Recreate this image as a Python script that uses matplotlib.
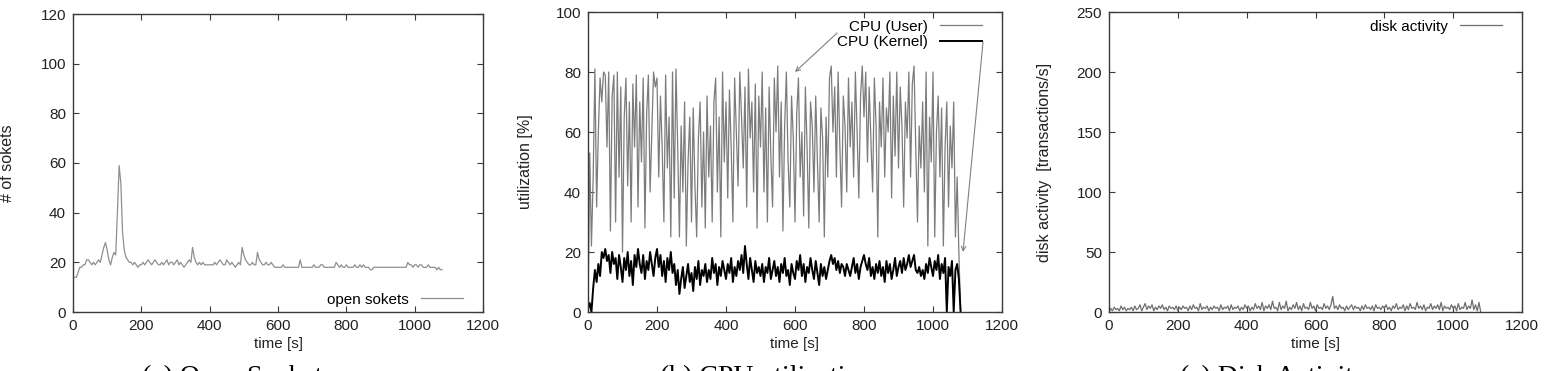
import numpy as np
import matplotlib
matplotlib.use("Agg")
import matplotlib.pyplot as plt

plt.rcParams['font.family'] = ['Liberation Sans', 'DejaVu Sans']

# sampling grid (seconds)
STEP = 5
T_END = 1080

sockets = [
    14, 14, 14, 16, 18, 18, 19, 19, 21, 21,
    20, 19, 20, 19, 20, 21, 20, 23, 26, 28,
    25, 21, 19, 22, 24, 23, 40, 59, 52, 32,
    25, 22, 21, 20, 20, 19, 20, 19, 18, 19,
    19, 20, 19, 20, 21, 20, 19, 20, 21, 20,
    19, 19, 20, 19, 20, 21, 19, 20, 20, 19,
    20, 21, 19, 20, 19, 18, 19, 20, 21, 20,
    26, 22, 20, 19, 20, 19, 20, 19, 19, 19,
    19, 19, 19, 20, 19, 20, 21, 20, 19, 19,
    21, 20, 19, 20, 19, 18, 19, 20, 19, 26,
    23, 21, 20, 19, 19, 20, 19, 19, 24, 21,
    20, 19, 19, 20, 19, 19, 20, 19, 18, 18,
    18, 18, 18, 19, 18, 18, 18, 18, 18, 18,
    18, 18, 18, 21, 18, 18, 18, 18, 18, 18,
    18, 19, 18, 18, 18, 19, 19, 18, 18, 18,
    18, 18, 18, 18, 20, 19, 18, 19, 18, 18,
    19, 18, 18, 18, 18, 19, 18, 18, 19, 18,
    19, 18, 18, 18, 17, 17, 18, 18, 18, 18,
    18, 18, 18, 18, 18, 18, 18, 18, 18, 18,
    18, 18, 18, 18, 18, 18, 20, 19, 19, 18,
    19, 19, 18, 19, 19, 18, 18, 18, 19, 18,
    18, 18, 18, 17, 18, 17, 17,
]

cpu_user = [
    0, 53, 22, 45, 81, 35, 60, 78, 70, 80,
    79, 55, 80, 27, 72, 79, 30, 80, 45, 75,
    20, 65, 78, 42, 70, 30, 76, 55, 79, 35,
    70, 50, 78, 28, 66, 79, 40, 60, 80, 75,
    78, 45, 72, 55, 30, 79, 48, 65, 25, 80,
    38, 81, 55, 25, 62, 40, 70, 22, 50, 65,
    30, 68, 42, 25, 58, 70, 35, 60, 28, 72,
    45, 62, 30, 70, 78, 40, 65, 25, 80, 50,
    70, 38, 74, 55, 30, 78, 60, 42, 80, 65,
    48, 75, 35, 81, 58, 70, 40, 76, 28, 72,
    55, 80, 40, 68, 30, 75, 52, 35, 78, 60,
    82, 45, 70, 27, 62, 80, 50, 35, 72, 58,
    30, 66, 78, 45, 60, 32, 75, 55, 28, 70,
    62, 40, 72, 50, 30, 68, 58, 25, 65, 45,
    78, 82, 60, 75, 45, 80, 55, 35, 72, 62,
    40, 78, 55, 70, 45, 80, 60, 38, 72, 82,
    65, 80, 50, 75, 58, 40, 78, 62, 25, 70,
    55, 78, 45, 68, 60, 80, 38, 72, 52, 80,
    48, 75, 62, 35, 70, 58, 80, 45, 76, 82,
    55, 30, 62, 48, 70, 40, 80, 22, 65, 50,
    80, 25, 60, 72, 45, 68, 22, 55, 70, 35,
    62, 48, 70, 25, 45, 20, 0,
]

cpu_kernel = [
    1, 3, 0, 8, 14, 10, 16, 12, 20, 18,
    21, 17, 19, 13, 20, 16, 18, 11, 19, 15,
    10, 18, 14, 20, 12, 17, 9, 19, 15, 21,
    16, 13, 19, 11, 17, 14, 20, 16, 12, 18,
    21, 15, 19, 12, 17, 10, 18, 14, 20, 13,
    16, 9, 14, 6, 11, 15, 8, 12, 16, 10,
    13, 7, 15, 11, 17, 9, 14, 12, 16, 10,
    14, 11, 18, 13, 16, 9, 15, 12, 17, 14,
    11, 16, 13, 18, 10, 15, 12, 17, 14, 19,
    13, 22, 16, 11, 18, 14, 10, 17, 13, 15,
    12, 16, 10, 15, 13, 18, 11, 14, 17, 12,
    15, 10, 16, 13, 18, 12, 14, 9, 16, 13,
    11, 17, 14, 19, 12, 16, 10, 15, 13, 18,
    14, 11, 17, 13, 9, 16, 12, 15, 11, 14,
    17, 19, 16, 18, 14, 17, 13, 16, 15, 12,
    16, 14, 12, 15, 18, 13, 16, 11, 15, 17,
    19, 16, 14, 18, 12, 15, 11, 16, 13, 17,
    12, 15, 10, 17, 13, 16, 11, 14, 18, 12,
    15, 17, 13, 18, 14, 16, 19, 15, 17, 19,
    14, 13, 15, 12, 14, 11, 16, 13, 18, 15,
    12, 17, 14, 19, 11, 16, 13, 18, 0, 15,
    12, 17, 0, 14, 16, 11, 0,
]

disk = [
    0, 3, 1, 4, 2, 3, 1, 5, 2, 4,
    1, 3, 2, 4, 1, 5, 2, 3, 6, 1,
    4, 7, 2, 5, 3, 6, 1, 4, 2, 5,
    3, 6, 2, 4, 1, 5, 3, 4, 2, 5,
    1, 4, 2, 5, 3, 4, 1, 5, 2, 6,
    3, 4, 1, 7, 2, 4, 3, 5, 1, 4,
    2, 5, 3, 4, 1, 6, 2, 4, 3, 5,
    1, 6, 2, 4, 3, 5, 1, 4, 2, 6,
    3, 5, 1, 4, 2, 7, 3, 5, 2, 8,
    1, 5, 3, 6, 2, 9, 3, 4, 1, 8,
    2, 5, 3, 9, 1, 4, 2, 6, 3, 8,
    2, 5, 1, 7, 3, 4, 2, 8, 3, 5,
    1, 6, 3, 4, 2, 7, 3, 5, 2, 6,
    13, 3, 5, 2, 6, 3, 4, 1, 5, 2,
    4, 6, 2, 5, 3, 4, 1, 5, 2, 6,
    3, 4, 2, 5, 1, 6, 3, 4, 2, 5,
    3, 6, 2, 4, 1, 5, 3, 7, 2, 4,
    3, 6, 1, 5, 2, 7, 3, 4, 2, 8,
    3, 5, 2, 6, 1, 4, 3, 7, 2, 5,
    3, 6, 2, 8, 1, 5, 3, 4, 2, 6,
    3, 5, 1, 7, 2, 4, 3, 8, 2, 5,
    3, 10, 2, 6, 1, 8, 0,
]

x_ticks = [0, 200, 400, 600, 800, 1000, 1200]
y_ticks_a = [0, 20, 40, 60, 80, 100, 120]
y_ticks_b = [0, 20, 40, 60, 80, 100]
y_ticks_c = [0, 50, 100, 150, 200, 250]
captions = ["(a) Open Sockets", "(b) CPU utilization", "(c) Disk Activity"]

t = np.arange(0, T_END + 1, STEP)

W, H = 1545, 371
fig = plt.figure(figsize=(W / 100, H / 100), dpi=100)

def px_axes(l, tp, r, b):
    return fig.add_axes([l / W, 1 - b / H, (r - l) / W, (b - tp) / H])

ax_a = px_axes(73, 14, 483, 312)
ax_b = px_axes(588, 12, 1002, 312)
ax_c = px_axes(1109, 12, 1522, 312)

axis_col = '#3a3a3a'
txt_col = '#222222'
for ax, yt in ((ax_a, y_ticks_a), (ax_b, y_ticks_b), (ax_c, y_ticks_c)):
    ax.set_xlim(0, 1200)
    ax.set_ylim(yt[0], yt[-1])
    ax.set_xticks(x_ticks)
    ax.set_yticks(yt)
    ax.tick_params(direction='in', top=True, right=True, length=4,
                   width=0.8, color=axis_col, labelsize=11, pad=5,
                   labelcolor=txt_col)
    for s in ax.spines.values():
        s.set_linewidth(1.0)
        s.set_color(axis_col)
    ax.set_xlabel('time [s]', fontsize=11, labelpad=3, color=txt_col)

leg_kw = dict(frameon=False, markerfirst=False, fontsize=11,
              handlelength=2.75, handletextpad=0.8, borderpad=0,
              borderaxespad=0, labelspacing=0.12)

# (a) open sockets
ax_a.plot(t, sockets, color='#8f8f8f', lw=0.9, label='open sokets')
ax_a.set_ylabel('# of sokets', fontsize=11.5, color=txt_col)
ax_a.yaxis.set_label_coords(-0.1415, 0.5)
ax_a.legend(loc='lower right', bbox_to_anchor=(0.951, 0.018), **leg_kw)

# (b) CPU utilization
ax_b.plot(t, cpu_user, color='#7c7c7c', lw=0.9, label='CPU (User)')
ax_b.plot(t, cpu_kernel, color='black', lw=1.4, label='CPU (Kernel)')
ax_b.set_ylabel('utilization [%]', fontsize=11.5, color=txt_col)
ax_b.yaxis.set_label_coords(-0.133, 0.5)
ax_b.legend(loc='upper right', bbox_to_anchor=(0.952, 0.975), **leg_kw)
arrow_kw = dict(arrowstyle='->', color='#808080', lw=0.8,
                shrinkA=0, shrinkB=0, mutation_scale=8)
ax_b.annotate('', xy=(600, 80), xytext=(722, 93), arrowprops=arrow_kw)
ax_b.annotate('', xy=(1087, 20), xytext=(1145, 90), arrowprops=arrow_kw,
              annotation_clip=False)

# (c) disk activity
ax_c.plot(t, disk, color='#6e6e6e', lw=0.9, label='disk activity')
ax_c.set_ylabel('disk activity  [transactions/s]', fontsize=11.5,
                color=txt_col)
ax_c.yaxis.set_label_coords(-0.138, 0.5)
ax_c.legend(loc='upper right', bbox_to_anchor=(0.952, 0.975), **leg_kw)

# captions (only their top part is visible, as in the reference)
for x_px, cap in zip((142, 660, 1180), captions):
    fig.text(x_px / W, 1 - 384 / H, cap, ha='left', va='baseline',
             fontsize=20, family=['Liberation Serif', 'DejaVu Serif'])

fig.savefig('out.png', dpi=100)
